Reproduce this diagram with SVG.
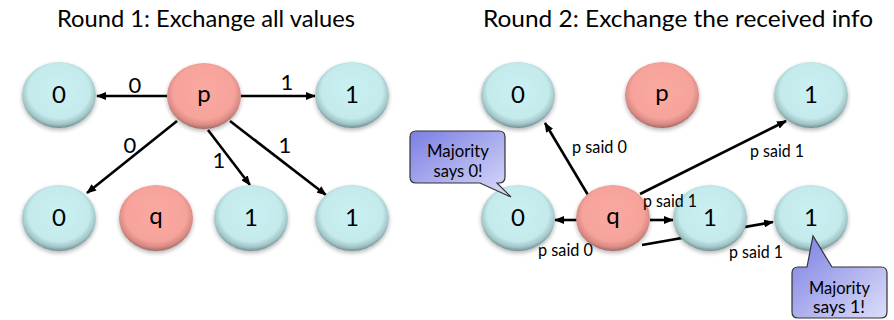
<svg xmlns="http://www.w3.org/2000/svg" width="894" height="320" viewBox="0 0 894 320">
<defs>
<radialGradient id="gTeal" cx="50%" cy="44%" r="56%">
<stop offset="0" stop-color="#c9f0f2"/>
<stop offset="0.74" stop-color="#c4eaec"/>
<stop offset="0.9" stop-color="#a2c4c6"/>
<stop offset="1" stop-color="#6f9092"/>
</radialGradient>
<radialGradient id="gPink" cx="50%" cy="44%" r="56%">
<stop offset="0" stop-color="#faa9a1"/>
<stop offset="0.74" stop-color="#f6a39b"/>
<stop offset="0.9" stop-color="#d88a83"/>
<stop offset="1" stop-color="#a06a66"/>
</radialGradient>
<linearGradient id="gCall" x1="0" y1="0" x2="1" y2="1">
<stop offset="0" stop-color="#7b7ee2"/>
<stop offset="1" stop-color="#dcdef9"/>
</linearGradient>
<filter id="sh" x="-20%" y="-20%" width="140%" height="150%">
<feGaussianBlur in="SourceAlpha" stdDeviation="2"/>
<feOffset dy="2" result="b"/>
<feComponentTransfer><feFuncA type="linear" slope="0.3"/></feComponentTransfer>
<feMerge><feMergeNode/><feMergeNode in="SourceGraphic"/></feMerge>
</filter>
<marker id="arr" viewBox="0 0 10 8" refX="9" refY="4" markerWidth="10" markerHeight="8" markerUnits="userSpaceOnUse" orient="auto">
<path d="M0,0 L10,4 L0,8 Z" fill="#000"/>
</marker>
</defs>
<style>
.teal{fill:url(#gTeal);filter:url(#sh)}
.pink{fill:url(#gPink);filter:url(#sh)}
.nl{font-family:Lato,"Open Sans","Liberation Sans",sans-serif;font-size:24px;fill:#000;text-anchor:middle}
.el{font-family:Lato,"Open Sans","Liberation Sans",sans-serif;font-size:22px;fill:#000;text-anchor:middle}
.pl{font-family:Lato,"Open Sans","Liberation Sans",sans-serif;font-size:16.5px;fill:#000}
.tt{font-family:Lato,"Open Sans","Liberation Sans",sans-serif;font-size:23px;fill:#000}
.cl{font-family:Lato,"Open Sans","Liberation Sans",sans-serif;font-size:17.5px;fill:#000;text-anchor:middle}
.ea{stroke:#000;stroke-width:2.6;fill:none;marker-end:url(#arr)}
.call{fill:url(#gCall);stroke:#333;stroke-width:1.2}
</style>

<text class="tt" x="57" y="27" textLength="298" lengthAdjust="spacingAndGlyphs">Round 1: Exchange all values</text>
<text class="tt" x="483" y="27" textLength="390" lengthAdjust="spacingAndGlyphs">Round 2: Exchange the received info</text>

<g id="connectors">
<line class="ea" x1="167" y1="96" x2="97" y2="96"/>
<line class="ea" x1="241" y1="96" x2="315" y2="96"/>
<line class="ea" x1="177" y1="121" x2="87" y2="193"/>
<line class="ea" x1="208" y1="130" x2="250" y2="185"/>
<line class="ea" x1="230" y1="121" x2="326" y2="195"/>
<line class="ea" x1="588" y1="195" x2="545" y2="123"/>
<line class="ea" x1="640" y1="194" x2="786" y2="121"/>
<line class="ea" x1="577" y1="220" x2="555" y2="220"/>
<line class="ea" x1="650" y1="220" x2="673" y2="220"/>
<line class="ea" x1="642" y1="245" x2="773" y2="222"/>
</g>

<g id="edge-labels">
<text class="el" x="135" y="93">0</text>
<text class="el" x="287" y="90">1</text>
<text class="el" x="130" y="153">0</text>
<text class="el" x="219" y="168">1</text>
<text class="el" x="285" y="153">1</text>
<text class="pl" x="572" y="153" textLength="55" lengthAdjust="spacingAndGlyphs">p said 0</text>
<text class="pl" x="750" y="157" textLength="54" lengthAdjust="spacingAndGlyphs">p said 1</text>
<text class="pl" x="538" y="256" textLength="55" lengthAdjust="spacingAndGlyphs">p said 0</text>
<text class="pl" x="729" y="258" textLength="54" lengthAdjust="spacingAndGlyphs">p said 1</text>
</g>

<g id="L0a"><ellipse class="teal" cx="59" cy="95" rx="37" ry="33"/><text class="nl" x="59" y="103">0</text></g>
<g id="Lp"><ellipse class="pink" cx="204" cy="96" rx="37" ry="33"/><text class="nl" x="204" y="102">p</text></g>
<g id="L1a"><ellipse class="teal" cx="352" cy="95" rx="37" ry="33"/><text class="nl" x="352" y="103">1</text></g>
<g id="L0b"><ellipse class="teal" cx="59" cy="218" rx="37" ry="33"/><text class="nl" x="59" y="226">0</text></g>
<g id="Lq"><ellipse class="pink" cx="156" cy="218" rx="37" ry="33"/><text class="nl" x="156" y="224">q</text></g>
<g id="L1b"><ellipse class="teal" cx="251" cy="218" rx="37" ry="33"/><text class="nl" x="251" y="226">1</text></g>
<g id="L1c"><ellipse class="teal" cx="352" cy="218" rx="37" ry="33"/><text class="nl" x="352" y="226">1</text></g>

<g id="R0a"><ellipse class="teal" cx="518" cy="95" rx="37" ry="33"/><text class="nl" x="518" y="103">0</text></g>
<g id="Rp"><ellipse class="pink" cx="662" cy="95" rx="37" ry="33"/><text class="nl" x="662" y="101">p</text></g>
<g id="R1a"><ellipse class="teal" cx="811" cy="95" rx="37" ry="33"/><text class="nl" x="811" y="103">1</text></g>
<g id="R0b"><ellipse class="teal" cx="518" cy="218" rx="37" ry="33"/><text class="nl" x="518" y="226">0</text></g>
<g id="Rq"><ellipse class="pink" cx="613" cy="218" rx="37" ry="33"/><text class="nl" x="613" y="224">q</text></g>
<g id="R1b"><ellipse class="teal" cx="710" cy="218" rx="37" ry="33"/><text class="nl" x="710" y="226">1</text></g>
<g id="R1c"><ellipse class="teal" cx="811" cy="218" rx="37" ry="33"/><text class="nl" x="811" y="226">1</text></g>

<text class="pl" x="643" y="207" textLength="54" lengthAdjust="spacingAndGlyphs">p said 1</text>

<g id="callout0">
<path class="call" d="M416,131 H499 Q505,131 505,137 V177 Q505,183 499,183 H497 L511,197 L480,183 H416 Q410,183 410,177 V137 Q410,131 416,131 Z"/>
<text class="cl" x="458" y="157" textLength="62" lengthAdjust="spacingAndGlyphs">Majority</text>
<text class="cl" x="458" y="177" textLength="49" lengthAdjust="spacingAndGlyphs">says 0!</text>
</g>
<g id="callout1">
<path class="call" d="M798,267 H807 L813,236 L832,267 H881 Q887,267 887,273 V312 Q887,318 881,318 H798 Q792,318 792,312 V273 Q792,267 798,267 Z"/>
<text class="cl" x="839.5" y="294" textLength="61" lengthAdjust="spacingAndGlyphs">Majority</text>
<text class="cl" x="839" y="313" textLength="52" lengthAdjust="spacingAndGlyphs">says 1!</text>
</g>
</svg>
